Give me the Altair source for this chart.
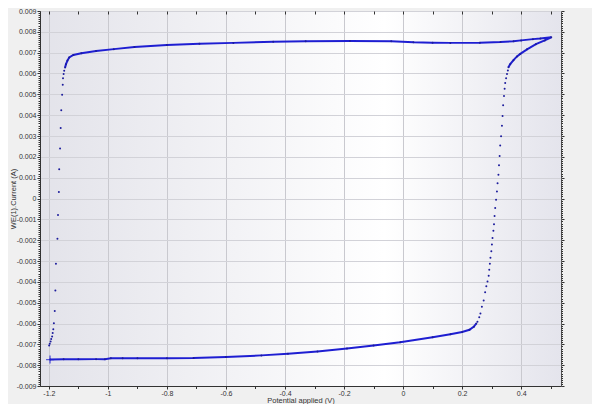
import altair as alt
import pandas as pd

# ---- data (cyclic scan) ----
# forward scan, dense lower branch (starts at the "+" marker)
bottom_potential = [-1.196, -1.15, -1.10, -1.04, -1.01, -0.99, -0.95, -0.90, -0.80, -0.71,
                    -0.60, -0.48, -0.39, -0.29, -0.19, -0.10, -0.01, 0.10, 0.16, 0.20,
                    0.225, 0.240, 0.248]
bottom_current = [-0.00773, -0.00772, -0.00772, -0.00771, -0.00771, -0.00767, -0.00767, -0.00767,
                  -0.00767, -0.00766, -0.00761, -0.00753, -0.00745, -0.00734, -0.00720, -0.00706,
                  -0.00690, -0.00666, -0.00652, -0.00641, -0.00630, -0.00615, -0.00600]
# forward scan, sparse steep rise
rise_potential = [0.252, 0.258, 0.262, 0.267, 0.273, 0.278, 0.282, 0.286, 0.290, 0.292,
                  0.294, 0.296, 0.299, 0.301, 0.303, 0.306, 0.308, 0.310, 0.312, 0.315,
                  0.318, 0.320, 0.323, 0.325, 0.327, 0.329, 0.332, 0.335, 0.337, 0.339,
                  0.342, 0.344, 0.346, 0.349, 0.352, 0.355]
rise_current = [-0.00591, -0.00570, -0.00552, -0.00520, -0.00489, -0.00450, -0.00421, -0.00398,
                -0.00371, -0.00342, -0.00313, -0.00284, -0.00253, -0.00221, -0.00190, -0.00155,
                -0.00124, -0.00084, -0.00045, -0.00006, 0.00034, 0.00073, 0.00114, 0.00160,
                0.00204, 0.00254, 0.00299, 0.00349, 0.00396, 0.00448, 0.00492, 0.00527,
                0.00554, 0.00577, 0.00598, 0.00614]
# dense knee, vertex and reverse scan upper branch
top_potential = [0.357, 0.363, 0.374, 0.386, 0.397, 0.42, 0.45, 0.48, 0.502,
                 0.465, 0.44, 0.40, 0.374, 0.33, 0.26, 0.16, 0.10, 0.035, -0.04,
                 -0.18, -0.33, -0.44, -0.575, -0.69, -0.80, -0.91, -0.98, -1.04,
                 -1.09, -1.117, -1.131, -1.137, -1.142, -1.145]
top_current = [0.00630, 0.00645, 0.00664, 0.00682, 0.00694, 0.00716, 0.00741, 0.00759, 0.00774,
               0.00768, 0.00765, 0.00759, 0.00755, 0.00751, 0.00748, 0.00747, 0.00748, 0.00750,
               0.00755, 0.00756, 0.00755, 0.00752, 0.00747, 0.00743, 0.00737, 0.00727, 0.00717,
               0.00708, 0.00697, 0.00689, 0.00677, 0.00662, 0.00645, 0.00629]
# reverse scan, sparse steep fall
fall_potential = [-1.148, -1.150, -1.152, -1.153, -1.155, -1.158, -1.160, -1.162, -1.165, -1.166,
                  -1.169, -1.171, -1.176, -1.178, -1.180, -1.183, -1.185, -1.187, -1.189, -1.192,
                  -1.194, -1.197, -1.199]
fall_current = [0.00613, 0.00598, 0.00577, 0.00546, 0.00498, 0.00424, 0.00338, 0.00240, 0.00141,
                0.00031, -0.00079, -0.00193, -0.00313, -0.00442, -0.00540, -0.00599, -0.00627,
                -0.00646, -0.00662, -0.00674, -0.00686, -0.00697, -0.00705]

# tick positions
y_ticks = [round(i * 0.0001, 4) for i in range(-90, 91)]
x_ticks = [round(i * 0.1, 1) for i in range(-12, 6)]

rows = []
for seg, xs, ys in [("bottom", bottom_potential, bottom_current),
                    ("rise", rise_potential, rise_current),
                    ("top", top_potential, top_current),
                    ("fall", fall_potential, fall_current)]:
    for xv, yv in zip(xs, ys):
        rows.append({"idx": len(rows), "seg": seg, "potential": xv, "current": yv})
df = pd.DataFrame(rows)

FONT = "Liberation Sans"
TXT = "#333333"
x_major = "abs(datum.value*5 - round(datum.value*5)) < 0.001"
y_major = "abs(datum.value*1000 - round(datum.value*1000)) < 0.001"

x_scale = alt.Scale(domain=[-1.23, 0.535], nice=False, zero=False)
y_scale = alt.Scale(domain=[-0.009, 0.009], nice=False, zero=False)

axis_bottom = alt.Axis(
    orient="bottom", values=x_ticks, title="Potential applied (V)",
    labelExpr=f"({x_major}) ? ((datum.value < 0 ? '-' : '') + format(abs(datum.value), '.1~f')) : ''",
    labelOverlap=False, labelFlush=False, labelFont=FONT, labelFontSize=7, labelColor=TXT,
    labelPadding=0, titleFont=FONT, titleFontSize=7.5, titleFontWeight="normal", titleColor=TXT,
    titleY=10, titleBaseline="top", grid=True, gridColor="#c9c9cf", gridWidth=1,
    gridOpacity={"condition": {"test": x_major, "value": 1}, "value": 0},
    tickSize={"condition": {"test": x_major, "value": 3}, "value": 2.5},
    tickColor=TXT, domainColor=TXT)
axis_left = alt.Axis(
    orient="left", values=y_ticks, title="WE(1).Current (A)",
    labelExpr=f"({y_major}) ? ((datum.value < 0 ? '-' : '') + format(abs(datum.value), '.3~f')) : ''",
    labelOverlap=False, labelFlush=False, labelFont=FONT, labelFontSize=7, labelColor=TXT,
    labelPadding=1, titleFont=FONT, titleFontSize=7.5, titleFontWeight="normal", titleColor=TXT,
    titleX=-27, titleBaseline="middle", grid=True, gridColor="#d2d2d8", gridWidth=1,
    gridOpacity={"condition": {"test": y_major, "value": 1}, "value": 0},
    tickSize={"condition": {"test": y_major, "value": 3}, "value": 2},
    tickColor=TXT, domainColor=TXT)
axis_top = alt.Axis(orient="top", values=x_ticks, labels=False, title=None, grid=False,
                    domain=False, offset=-3, tickSize=3, tickColor=TXT)
axis_right = alt.Axis(orient="right", values=y_ticks, labels=False, title=None, grid=False,
                      domain=False,
                      tickSize={"condition": {"test": y_major, "value": 3}, "value": 1.5},
                      tickColor=TXT)

base = alt.Chart(df)

line = base.transform_filter("datum.seg == 'bottom' || datum.seg == 'top'").mark_line(
    color="#1e1ed2", strokeWidth=2).encode(
    x=alt.X("potential:Q", scale=x_scale, axis=axis_top),
    y=alt.Y("current:Q", scale=y_scale, axis=axis_right),
    detail="seg:N", order="idx:Q")

points = base.mark_circle(color="#1c1c9c", size=4, opacity=1).encode(
    x=alt.X("potential:Q", scale=x_scale, axis=axis_bottom),
    y=alt.Y("current:Q", scale=y_scale, axis=axis_left))

start = base.transform_filter("datum.idx == 0").mark_point(
    shape="M-1,0L1,0M0,-1L0,1", filled=False, size=64, strokeWidth=1.3, color="#1e1ed2").encode(
    x=alt.X("potential:Q", scale=x_scale, axis=None),
    y=alt.Y("current:Q", scale=y_scale, axis=None))

grad = ("{gradient: 'linear', x1: 0, y1: 0, x2: 1, y2: 0, stops: ["
        "{offset: 0, color: '#e3e3ea'}, {offset: 0.66, color: '#ffffff'}, "
        "{offset: 1, color: '#e4e4ec'}]}")

chart = alt.layer(line, points, start).resolve_axis(
    x="independent", y="independent").properties(
    width=521, height=375,
    autosize=alt.AutoSizeParams(type="none"),
    padding={"left": 32, "top": 3, "right": 31, "bottom": 18},
    background="#f0f0f0",
).configure_view(fill={"expr": grad}, stroke="#555555")

chart.save("out.html", embed_options={"renderer": "svg", "actions": False})
